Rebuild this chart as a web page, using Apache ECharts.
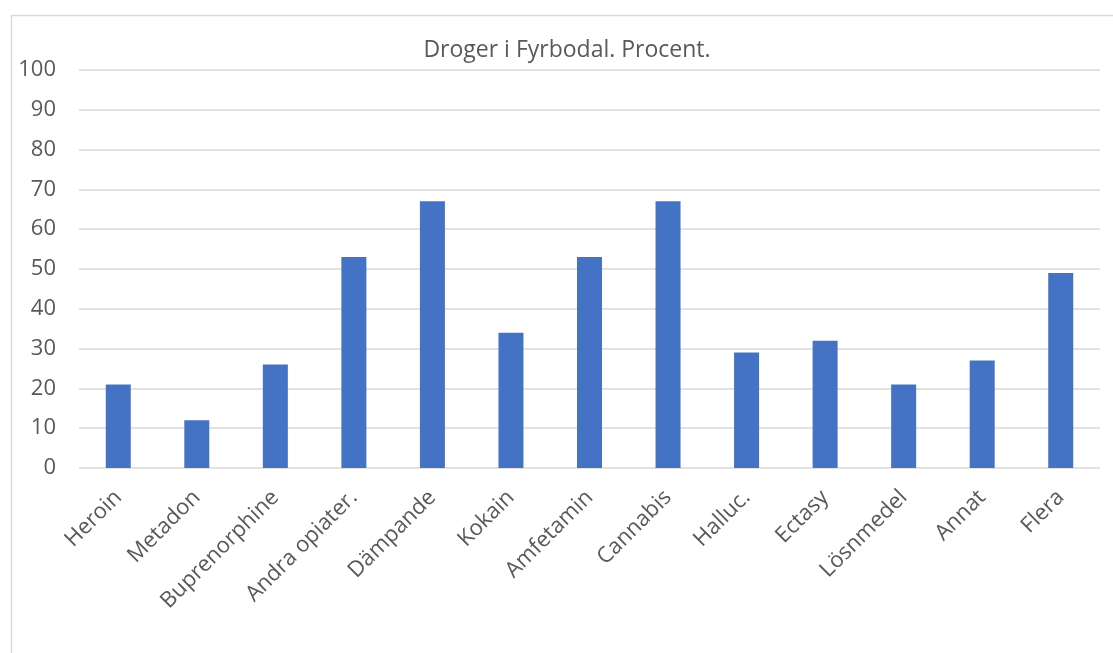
<!DOCTYPE html>
<html>
<head>
<meta charset="utf-8">
<script src="https://cdn.jsdelivr.net/npm/echarts@6/dist/echarts.min.js"></script>
<style>
html,body{margin:0;padding:0;background:#fff;}
#chart{width:1113px;height:653px;}
</style>
</head>
<body>
<div id="chart"></div>
<script>
var categories = ['Heroin','Metadon','Buprenorphine','Andra opiater.','Dämpande','Kokain','Amfetamin','Cannabis','Halluc.','Ectasy','Lösnmedel','Annat','Flera'];
var values = [21,12,26,53,67,34,53,67,29,32,21,27,49];
var yTicks = {min:0, max:100, interval:10};
var titleText = 'Droger i Fyrbodal. Procent.';

var font = '"Open Sans", "Noto Sans", sans-serif';
var chart = echarts.init(document.getElementById('chart'));
chart.setOption({
  backgroundColor:'#ffffff',
  animation:false,
  graphic:[{
    type:'rect', left:9, top:13,
    shape:{width:1110, height:660},
    style:{fill:'none', stroke:'#d9d9d9', lineWidth:1.5},
    silent:true
  },{
    type:'text', x:567, y:50, silent:true,
    style:{text:titleText, fill:'#595959', font:'normal 23px ' + font, textAlign:'center', textVerticalAlign:'middle'}
  }],
  grid:{left:79, right:13, top:70, bottom:185, containLabel:false},
  xAxis:{
    type:'category', data:categories,
    axisLine:{show:false}, axisTick:{show:false},
    axisLabel:{rotate:45, interval:0, margin:26, color:'#595959', fontFamily:font, fontSize:22}
  },
  yAxis:{
    type:'value', min:yTicks.min, max:yTicks.max, interval:yTicks.interval,
    axisLine:{show:false}, axisTick:{show:false},
    axisLabel:{margin:23, color:'#595959', fontFamily:font, fontSize:22},
    splitLine:{lineStyle:{color:'#d9d9d9', width:1.5}}
  },
  series:[{
    type:'bar', data:values, barWidth:25,
    itemStyle:{color:'#4472c4'}
  }]
});
</script>
</body>
</html>
